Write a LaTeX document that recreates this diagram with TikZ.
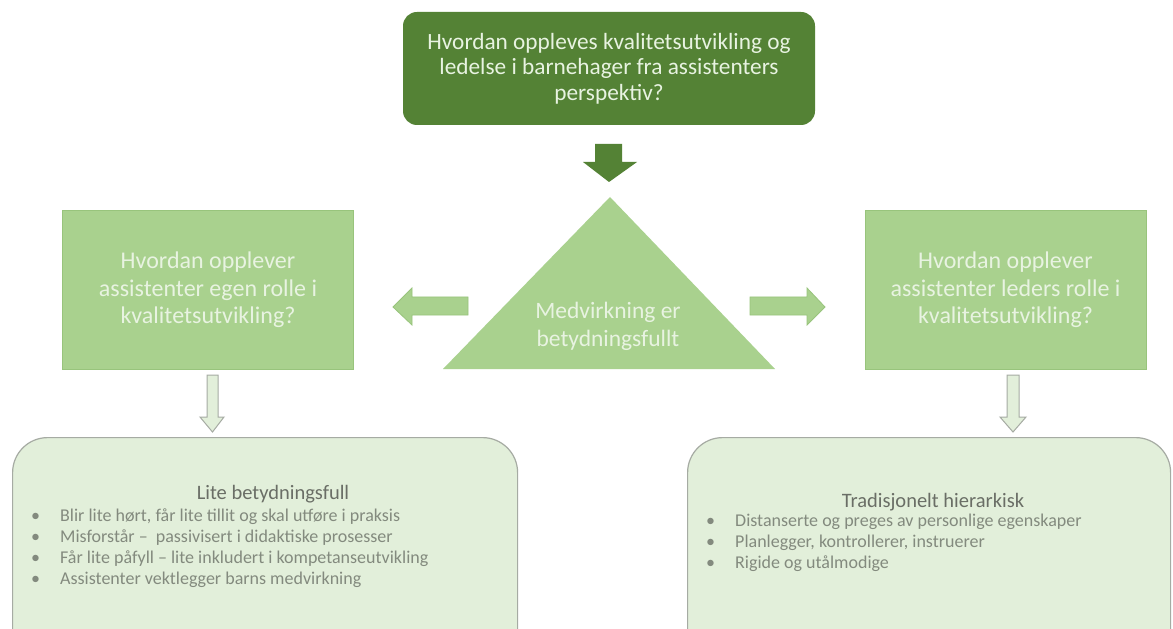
\documentclass[tikz,border=0pt]{standalone}
\usepackage{fontspec}
\setmainfont{Carlito}
\definecolor{dkgreen}{HTML}{548235}
\definecolor{midgreen}{HTML}{A9D18E}
\definecolor{midedge}{HTML}{98C47C}
\definecolor{ltgreen}{HTML}{E2EFDA}
\definecolor{txtlight}{HTML}{E8F3E1}
\definecolor{boxedge}{HTML}{A6ABA3}
\definecolor{titlegray}{HTML}{6A6E66}
\definecolor{bulgray}{HTML}{838A7E}
\begin{document}
\begin{tikzpicture}[x=1bp,y=-1bp,
  topbox/.style={fill=dkgreen, rounded corners=14bp, minimum width=412bp, minimum height=113bp,
    text=txtlight, font=\fontsize{23.3bp}{25.5bp}\selectfont, align=center, inner sep=0pt},
  sidebox/.style={fill=midgreen, draw=midedge, line width=1bp, minimum height=158bp,
    text=txtlight, font=\fontsize{24bp}{27.5bp}\selectfont, align=center, inner sep=0pt},
  tritext/.style={text=txtlight, font=\fontsize{23.5bp}{28bp}\selectfont, align=center, inner sep=0pt},
  botbox/.style={fill=ltgreen, draw=boxedge, line width=1.2bp, rounded corners=35bp, inner sep=0pt},
  hollow/.style={fill=ltgreen, draw=boxedge, line width=1bp, line join=miter},
  solidarrow/.style={fill=midgreen, draw=midedge, line width=0.8bp},
  bt/.style={text=titlegray, font=\fontsize{20.5bp}{22bp}\selectfont, inner sep=0pt, text height=14bp, text depth=5bp},
  bl/.style={text=bulgray, font=\fontsize{18bp}{20bp}\selectfont, inner sep=0pt, anchor=west, text height=12.5bp, text depth=4bp},
]
\clip (0,0) rectangle (1173,629);
\fill[white] (0,0) rectangle (1173,629);

% top question
\node[topbox] (q) at (609,68.5) {Hvordan oppleves kvalitetsutvikling og\\ledelse i barnehager fra assistenters\\perspektiv?};

% triangle
\coordinate (tl) at (443,369);
\coordinate (tt) at (610,197);
\coordinate (tr) at (775,369);
\fill[midgreen] (tl) -- (tt) -- (tr) -- cycle;
\node[tritext] (tri) at (608,326) {Medvirkning er\\betydningsfullt};

% dark down arrow
\fill[dkgreen] (595,144) -- (622,144) -- (622,162) -- (637,162) -- (609,182) -- (583,162) -- (595,162) -- cycle;

% side boxes
\node[sidebox, minimum width=290bp] (lq) at (208,290) {Hvordan opplever\\assistenter egen rolle i\\kvalitetsutvikling?};
\node[sidebox, minimum width=281bp] (rq) at (1005.5,290) {Hvordan opplever\\assistenter leders rolle i\\kvalitetsutvikling?};

% side arrows
\path[solidarrow] (468,297) -- (468,315) -- (412,315) -- (412,325) -- (393,307) -- (412,288) -- (412,297) -- cycle;
\path[solidarrow] (750,297) -- (807,297) -- (807,288) -- (825,307) -- (807,325) -- (807,315) -- (750,315) -- cycle;

% hollow down arrows
\path[hollow] (207,375) -- (218,375) -- (218,417) -- (224,417) -- (212.5,432) -- (200,417) -- (207,417) -- cycle;
\path[hollow] (1007,375) -- (1019,375) -- (1019,417) -- (1026,417) -- (1013,432) -- (1000,417) -- (1007,417) -- cycle;

% bottom boxes
\node[botbox, anchor=north west, minimum width=505bp, minimum height=260bp] (lb) at (12,437) {};
\node[botbox, anchor=north west, minimum width=483bp, minimum height=260bp] (rb) at (687,437) {};

% left text
\node[bt] (lt) at (273,495) {Lite betydningsfull};
\node[bl] (l1b) at (31,517) {•};
\node[bl] (l1) at (60,517) {Blir lite hørt, får lite tillit og skal utføre i praksis};
\node[bl] (l2b) at (31,538) {•};
\node[bl] (l2) at (60,538) {Misforstår –\ \ passivisert i didaktiske prosesser};
\node[bl] (l3b) at (31,559) {•};
\node[bl] (l3) at (60,559) {Får lite påfyll – lite inkludert i kompetanseutvikling};
\node[bl] (l4b) at (31,580) {•};
\node[bl] (l4) at (60,580) {Assistenter vektlegger barns medvirkning};

% right text
\node[bt] (rt) at (933,503) {Tradisjonelt hierarkisk};
\node[bl] (r1b) at (706,522) {•};
\node[bl] (r1) at (735,522) {Distanserte og preges av personlige egenskaper};
\node[bl] (r2b) at (706,543) {•};
\node[bl] (r2) at (735,543) {Planlegger, kontrollerer, instruerer};
\node[bl] (r3b) at (706,564) {•};
\node[bl] (r3) at (735,564) {Rigide og utålmodige};
\end{tikzpicture}
\end{document}
